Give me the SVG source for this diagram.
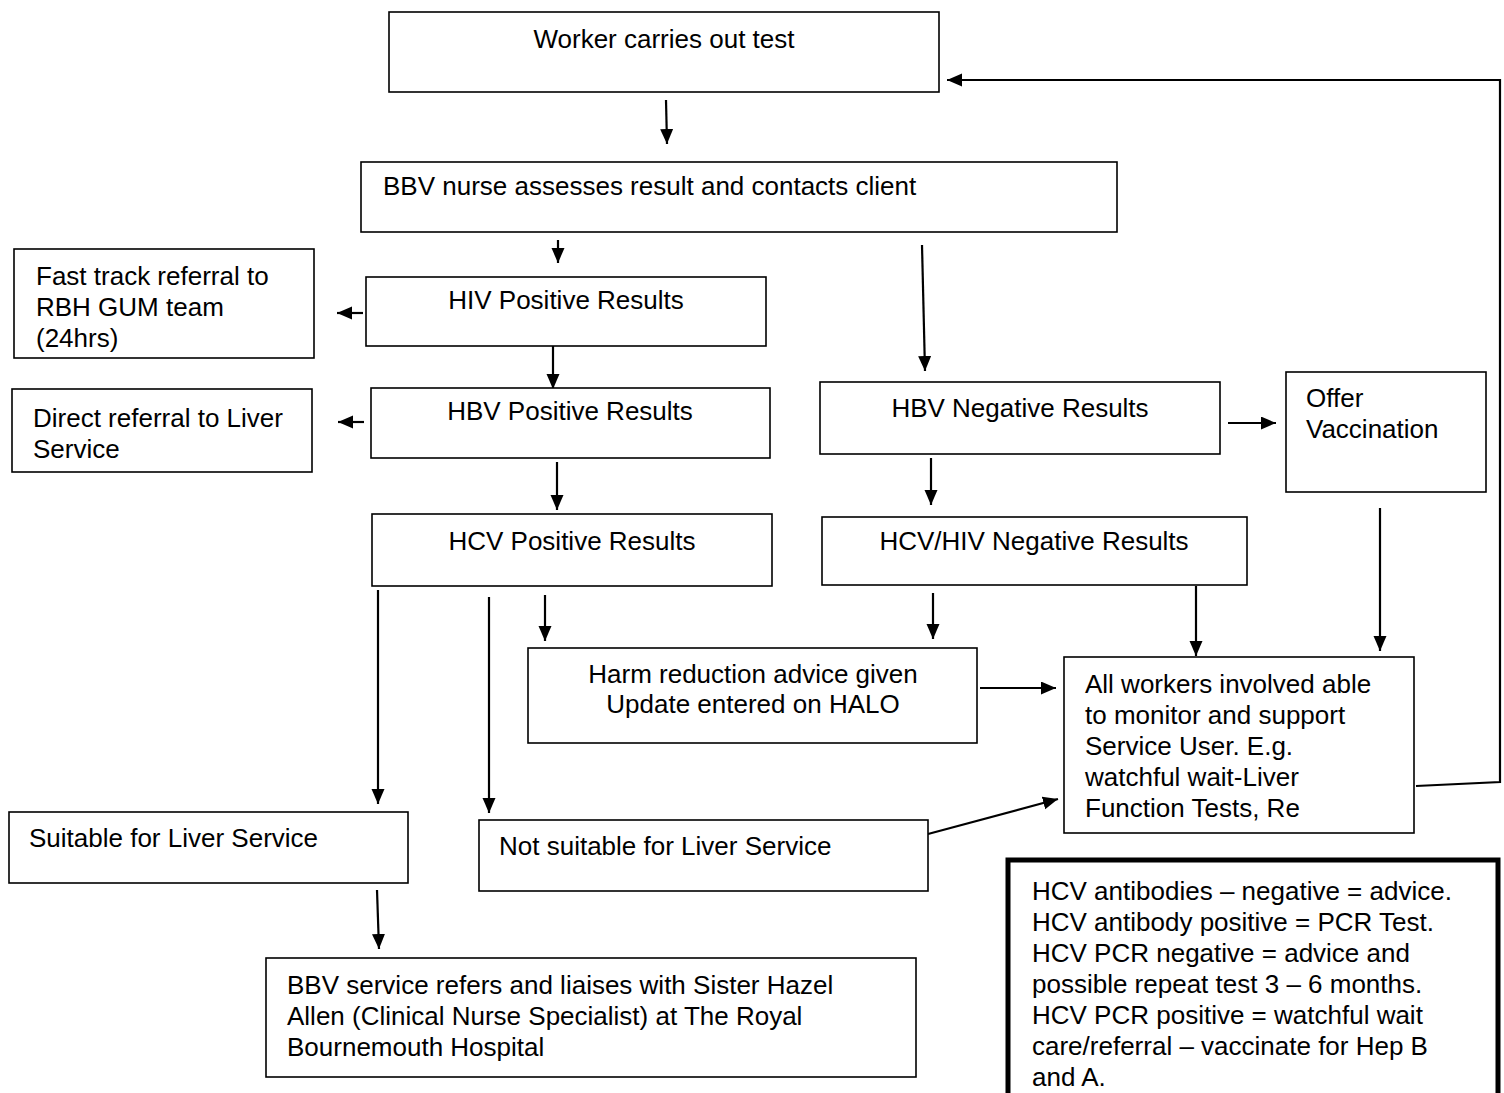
<svg xmlns="http://www.w3.org/2000/svg" width="1504" height="1093" viewBox="0 0 1504 1093">
<defs>
<style>
.box{fill:#fff;stroke:#000;stroke-width:1.6}
.thick{fill:#fff;stroke:#000;stroke-width:5}
.t{font-family:"Liberation Sans",Arial,sans-serif;font-size:26px;fill:#000}
.c{text-anchor:middle}
.ln{fill:none;stroke:#000;stroke-width:2.2}
</style>
<marker id="ah" markerUnits="userSpaceOnUse" markerWidth="16" markerHeight="14" refX="15" refY="6.5" orient="auto">
<path d="M0,0 L15,6.5 L0,13 Z" fill="#000"/>
</marker>
</defs>
<rect width="1504" height="1093" fill="#fff"/>

<g id="connectors">
<line class="ln" x1="666" y1="100" x2="667" y2="144" marker-end="url(#ah)"/>
<line class="ln" x1="558" y1="240" x2="558" y2="263" marker-end="url(#ah)"/>
<line class="ln" x1="922" y1="245" x2="925" y2="371" marker-end="url(#ah)"/>
<line class="ln" x1="363" y1="313" x2="337" y2="313" marker-end="url(#ah)"/>
<line class="ln" x1="553" y1="342" x2="553" y2="389" marker-end="url(#ah)"/>
<line class="ln" x1="364" y1="422" x2="338" y2="422" marker-end="url(#ah)"/>
<line class="ln" x1="557" y1="462" x2="557" y2="510" marker-end="url(#ah)"/>
<line class="ln" x1="1228" y1="423" x2="1276" y2="423" marker-end="url(#ah)"/>
<line class="ln" x1="931" y1="458" x2="931" y2="505" marker-end="url(#ah)"/>
<line class="ln" x1="1380" y1="508" x2="1380" y2="651" marker-end="url(#ah)"/>
<line class="ln" x1="1196" y1="586" x2="1196" y2="656" marker-end="url(#ah)"/>
<line class="ln" x1="933" y1="593" x2="933" y2="639" marker-end="url(#ah)"/>
<line class="ln" x1="545" y1="595" x2="545" y2="641" marker-end="url(#ah)"/>
<line class="ln" x1="378" y1="590" x2="378" y2="804" marker-end="url(#ah)"/>
<line class="ln" x1="489" y1="597" x2="489" y2="813" marker-end="url(#ah)"/>
<line class="ln" x1="980" y1="688" x2="1056" y2="688" marker-end="url(#ah)"/>
<line class="ln" x1="928" y1="834" x2="1058" y2="799" marker-end="url(#ah)"/>
<line class="ln" x1="377" y1="890" x2="379" y2="949" marker-end="url(#ah)"/>
<polyline class="ln" points="1416,786 1500,782 1500,80 947,80" marker-end="url(#ah)"/>
</g>

<g id="n1"><rect class="box" x="389" y="12" width="550" height="80"/>
<text class="t c" x="664" y="48">Worker carries out test</text></g>

<g id="n2"><rect class="box" x="361" y="162" width="756" height="70"/>
<text class="t" x="383" y="195">BBV nurse assesses result and contacts client</text></g>

<g id="n3"><rect class="box" x="366" y="277" width="400" height="69"/>
<text class="t c" x="566" y="309">HIV Positive Results</text></g>

<g id="n4"><rect class="box" x="14" y="249" width="300" height="109"/>
<text class="t" x="36" y="285">Fast track referral to</text>
<text class="t" x="36" y="316">RBH GUM team</text>
<text class="t" x="36" y="347">(24hrs)</text></g>

<g id="n5"><rect class="box" x="371" y="388" width="399" height="70"/>
<text class="t c" x="570" y="420">HBV Positive Results</text></g>

<g id="n6"><rect class="box" x="12" y="389" width="300" height="83"/>
<text class="t" x="33" y="427">Direct referral to Liver</text>
<text class="t" x="33" y="458">Service</text></g>

<g id="n7"><rect class="box" x="372" y="514" width="400" height="72"/>
<text class="t c" x="572" y="550">HCV Positive Results</text></g>

<g id="n8"><rect class="box" x="820" y="382" width="400" height="72"/>
<text class="t c" x="1020" y="417">HBV Negative Results</text></g>

<g id="n9"><rect class="box" x="1286" y="372" width="200" height="120"/>
<text class="t" x="1306" y="407">Offer</text>
<text class="t" x="1306" y="438">Vaccination</text></g>

<g id="n10"><rect class="box" x="822" y="517" width="425" height="68"/>
<text class="t c" x="1034" y="550">HCV/HIV Negative Results</text></g>

<g id="n11"><rect class="box" x="528" y="648" width="449" height="95"/>
<text class="t c" x="753" y="683">Harm reduction advice given</text>
<text class="t c" x="753" y="713">Update entered on HALO</text></g>

<g id="n12"><rect class="box" x="1064" y="657" width="350" height="176"/>
<text class="t" x="1085" y="693">All workers involved able</text>
<text class="t" x="1085" y="724">to monitor and support</text>
<text class="t" x="1085" y="755">Service User. E.g.</text>
<text class="t" x="1085" y="786">watchful wait-Liver</text>
<text class="t" x="1085" y="817">Function Tests, Re</text></g>

<g id="n13"><rect class="box" x="9" y="812" width="399" height="71"/>
<text class="t" x="29" y="847">Suitable for Liver Service</text></g>

<g id="n14"><rect class="box" x="479" y="820" width="449" height="71"/>
<text class="t" x="499" y="855">Not suitable for Liver Service</text></g>

<g id="n15"><rect class="box" x="266" y="958" width="650" height="119"/>
<text class="t" x="287" y="994">BBV service refers and liaises with Sister Hazel</text>
<text class="t" x="287" y="1025">Allen (Clinical Nurse Specialist) at The Royal</text>
<text class="t" x="287" y="1056">Bournemouth Hospital</text></g>

<g id="n16"><rect class="thick" x="1008" y="860" width="490" height="250"/>
<text class="t" x="1032" y="900">HCV antibodies – negative = advice.</text>
<text class="t" x="1032" y="931">HCV antibody positive = PCR Test.</text>
<text class="t" x="1032" y="962">HCV PCR negative = advice and</text>
<text class="t" x="1032" y="993">possible repeat test 3 – 6 months.</text>
<text class="t" x="1032" y="1024">HCV PCR positive = watchful wait</text>
<text class="t" x="1032" y="1055">care/referral – vaccinate for Hep B</text>
<text class="t" x="1032" y="1086">and A.</text></g>
</svg>
